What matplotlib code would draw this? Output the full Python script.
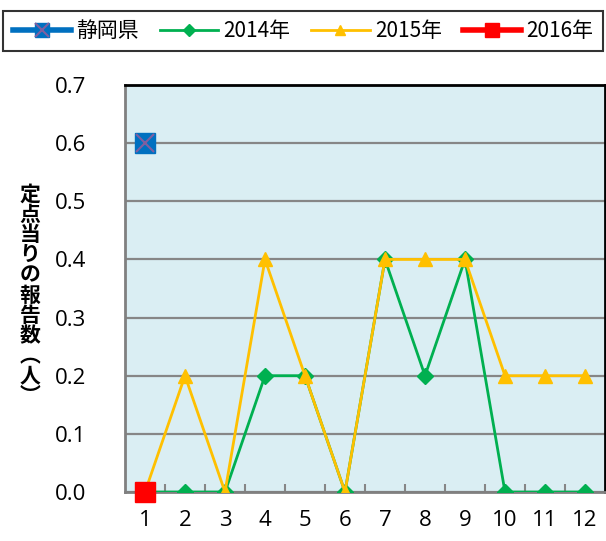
import matplotlib
matplotlib.use("Agg")
import matplotlib.pyplot as plt
from matplotlib.ticker import MultipleLocator, FixedLocator

plt.rcParams['font.family'] = ['Noto Sans CJK JP', 'DejaVu Sans']

months = [1, 2, 3, 4, 5, 6, 7, 8, 9, 10, 11, 12]
shizuoka_x = [1]
shizuoka = [0.6]
y2014 = [0, 0, 0, 0.2, 0.2, 0, 0.4, 0.2, 0.4, 0, 0, 0]
y2015 = [0, 0.2, 0, 0.4, 0.2, 0, 0.4, 0.4, 0.4, 0.2, 0.2, 0.2]
y2016_x = [1]
y2016 = [0]
labels = ['静岡県', '2014年', '2015年', '2016年']

fig = plt.figure(figsize=(6.06, 5.41), dpi=100)
ax = fig.add_axes([125/606, 49/541, 480/606, 407/541])
ax.set_facecolor('#DAEEF3')

ax.set_xlim(0.5, 12.5)
ax.set_ylim(0, 0.7)
ax.yaxis.set_major_locator(MultipleLocator(0.1))
ax.yaxis.grid(True, color='#868686', linewidth=1.6)
ax.set_axisbelow(True)

l14, = ax.plot(months, y2014, color='#00B050', lw=2, marker='D', ms=8.5, zorder=3)
l15, = ax.plot(months, y2015, color='#FFC000', lw=2, marker='^', ms=10, zorder=3)
l16, = ax.plot(y2016_x, y2016, color='#FF0000', lw=4, marker='s', ms=14, zorder=4, clip_on=False)
ls, = ax.plot(shizuoka_x, shizuoka, color='#0070C0', lw=4, marker='s', ms=14, zorder=4)
lsx, = ax.plot(shizuoka_x, shizuoka, color='none', marker='x', ms=13, mec='#7F5FA0', mew=1.5, zorder=5)

ax.set_xticks(months)
ax.set_xticklabels([str(m) for m in months])
ax.xaxis.set_minor_locator(FixedLocator([m + 0.5 for m in months[:-1]]))
ax.tick_params(axis='x', which='major', length=0, pad=13, labelsize=16)
ax.tick_params(axis='x', which='minor', direction='in', length=6, color='#868686', width=1.5)
ax.tick_params(axis='y', length=0, pad=28, labelsize=16)
ax.set_yticks([0, 0.1, 0.2, 0.3, 0.4, 0.5, 0.6, 0.7])
ax.set_yticklabels(['0.0', '0.1', '0.2', '0.3', '0.4', '0.5', '0.6', '0.7'])
for lab in ax.get_xticklabels() + ax.get_yticklabels():
    lab.set_family(['Open Sans', 'DejaVu Sans'])

for s in ['left', 'bottom']:
    ax.spines[s].set_color('#808080')
    ax.spines[s].set_linewidth(2)
for s in ['top', 'right']:
    ax.spines[s].set_color('#000000')
    ax.spines[s].set_linewidth(2)

fig.text(30/606, 1 - 295/541, '定\n点\n当\nり\nの\n報\n告\n数\n︵\n人\n︶', ha='center', va='center',
         fontsize=15, fontweight='bold', linespacing=0.95)

leg = fig.legend([(ls, lsx), l14, l15, l16], labels, loc='center', bbox_to_anchor=(303/606, 1 - 31/541),
                 ncol=4, frameon=True, fancybox=False, edgecolor='black', fontsize=15,
                 handlelength=2.8, columnspacing=1.0, handletextpad=0.25, borderpad=0.45,
                 markerscale=0.75)
leg.get_frame().set_linewidth(1.5)

fig.savefig('out.png', dpi=100)
